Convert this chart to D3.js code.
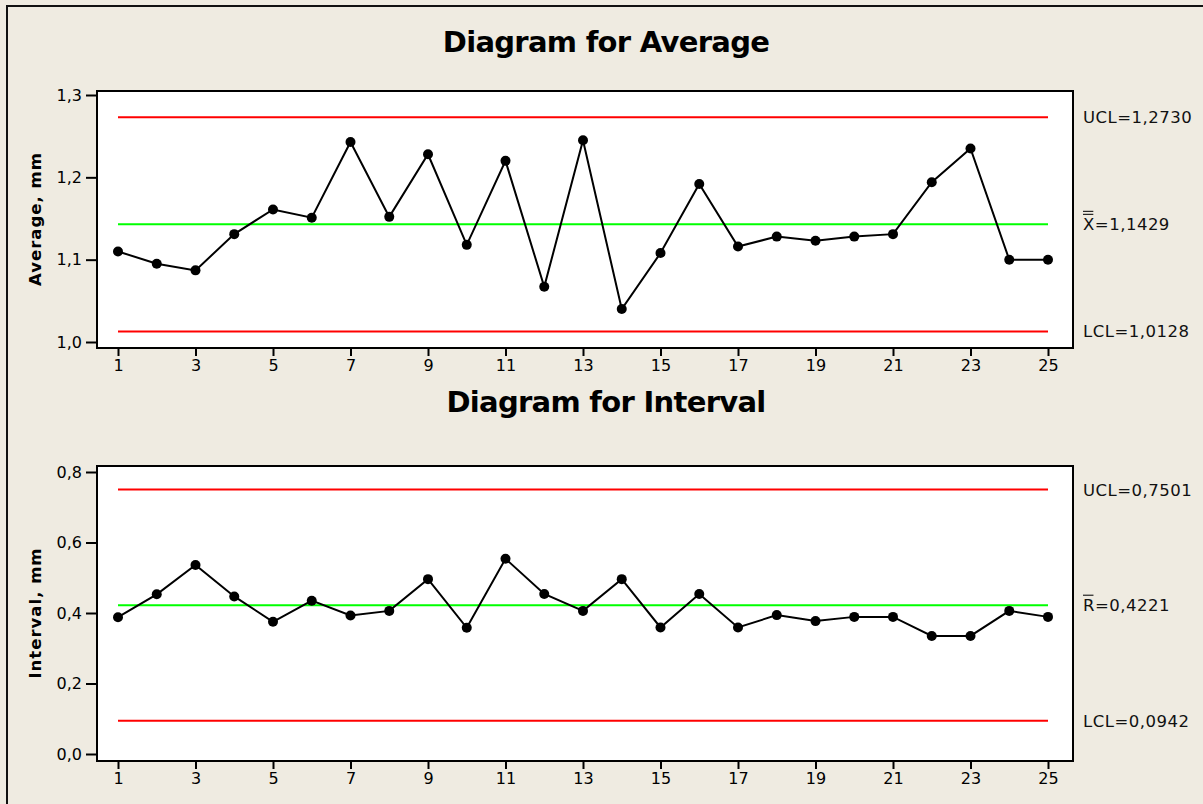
<!DOCTYPE html>
<html>
<head>
<meta charset="utf-8">
<script src="https://cdn.jsdelivr.net/npm/d3@7"></script>
<style>
  html, body { margin: 0; padding: 0; background: #efebe1; overflow: hidden; }
  svg { display: block; }
  .axis text { font-family: "DejaVu Sans", sans-serif; font-size: 16px; fill: #000; }
  .axis path, .axis line { stroke: #000; stroke-width: 2px; }
</style>
</head>
<body>
<div id="chart"></div>
<script>
// sample numbers on the x axis
var samples = d3.range(1, 26);
var xTicks = [1, 3, 5, 7, 9, 11, 13, 15, 17, 19, 21, 23, 25];

// subgroup averages (mm)
var averages = [1.110, 1.095, 1.087, 1.131, 1.161, 1.151, 1.243, 1.152, 1.228, 1.118,
                1.220, 1.067, 1.245, 1.040, 1.108, 1.192, 1.116, 1.128, 1.123, 1.128,
                1.131, 1.194, 1.235, 1.100, 1.100];
var avgLimits = { ucl: 1.2730, center: 1.1429, lcl: 1.0128 };
var avgTicks = [1.0, 1.1, 1.2, 1.3];

// subgroup ranges (mm)
var intervals = [0.388, 0.453, 0.536, 0.447, 0.375, 0.435, 0.393, 0.406, 0.496, 0.358,
                 0.554, 0.454, 0.406, 0.496, 0.359, 0.454, 0.359, 0.394, 0.377, 0.389,
                 0.389, 0.335, 0.335, 0.406, 0.389];
var intLimits = { ucl: 0.7501, center: 0.4221, lcl: 0.0942 };
var intTicks = [0.0, 0.2, 0.4, 0.6, 0.8];

var W = 1203, H = 804;
var comma = d3.formatLocale({ decimal: ",", thousands: " ", grouping: [3], currency: ["", ""] });
var f1 = comma.format(".1f"), f4 = comma.format(".4f");

var svg = d3.select("#chart").append("svg")
  .attr("width", W).attr("height", H);

// outer frame
svg.append("rect")
  .attr("x", 7).attr("y", 6)
  .attr("width", W + 20).attr("height", H + 20)
  .attr("fill", "#efebe1")
  .attr("stroke", "#111").attr("stroke-width", 2);

var plotLeft = 97, plotRight = 1073;
var x = d3.scaleLinear().domain([1, 25]).range([118, 1048]);

function panel(opts) {
  var y = d3.scaleLinear().domain(opts.domain).range([opts.yBottom, opts.yTop]);
  var g = svg.append("g");

  // title
  g.append("text")
    .attr("x", 606).attr("y", opts.titleY)
    .attr("text-anchor", "middle")
    .attr("font-family", "DejaVu Sans, sans-serif")
    .attr("font-weight", "bold")
    .attr("font-size", "29px")
    .attr("letter-spacing", "-0.7px")
    .text(opts.title);

  // plot area
  g.append("rect")
    .attr("x", plotLeft).attr("y", opts.frameTop)
    .attr("width", plotRight - plotLeft).attr("height", opts.frameBottom - opts.frameTop)
    .attr("fill", "#fff")
    .attr("stroke", "#000").attr("stroke-width", 2);

  // axes
  g.append("g").attr("class", "axis")
    .attr("transform", "translate(" + (plotLeft - 1) + ",0)")
    .call(d3.axisLeft(y).tickValues(opts.ticks).tickFormat(f1).tickSize(10).tickSizeOuter(0).tickPadding(4))
    .call(function (a) { a.select(".domain").remove(); });

  g.append("g").attr("class", "axis")
    .attr("transform", "translate(0," + (opts.frameBottom + 1) + ")")
    .call(d3.axisBottom(x).tickValues(xTicks).tickFormat(d3.format("d")).tickSize(7).tickPadding(4))
    .call(function (a) { a.select(".domain").remove(); });

  // y label
  g.append("text")
    .attr("transform", "translate(41," + opts.labelY + ") rotate(-90)")
    .attr("text-anchor", "middle")
    .attr("font-family", "DejaVu Sans, sans-serif")
    .attr("font-weight", "bold")
    .attr("font-size", "16.5px")
    .attr("letter-spacing", "1px")
    .text(opts.yLabel);

  // control lines
  var lims = [
    { v: opts.limits.ucl, c: "#ff0000" },
    { v: opts.limits.center, c: "#00ff00" },
    { v: opts.limits.lcl, c: "#ff0000" }
  ];
  g.selectAll(".lim").data(lims).enter().append("line")
    .attr("x1", x(1)).attr("x2", x(25))
    .attr("y1", function (d) { return y(d.v); })
    .attr("y2", function (d) { return y(d.v); })
    .attr("stroke", function (d) { return d.c; })
    .attr("stroke-width", 2);

  // series line and points
  var line = d3.line()
    .x(function (d, i) { return x(samples[i]); })
    .y(function (d) { return y(d); });
  g.append("path")
    .datum(opts.values)
    .attr("d", line)
    .attr("fill", "none")
    .attr("stroke", "#000")
    .attr("stroke-width", 2);
  g.selectAll(".pt").data(opts.values).enter().append("circle")
    .attr("cx", function (d, i) { return x(samples[i]); })
    .attr("cy", function (d) { return y(d); })
    .attr("r", 5)
    .attr("fill", "#000");

  // right side labels
  var labelX = 1083;
  function sideText(yv, txt) {
    return g.append("text")
      .attr("x", labelX).attr("y", y(yv))
      .attr("dy", "0.36em")
      .attr("font-family", "DejaVu Sans, sans-serif")
      .attr("font-size", "16.5px")
      .attr("letter-spacing", "0.5px")
      .attr("fill", "#111")
      .text(txt);
  }
  sideText(opts.limits.ucl, "UCL=" + f4(opts.limits.ucl));
  sideText(opts.limits.lcl, "LCL=" + f4(opts.limits.lcl));

  // center label with bar(s) over the symbol
  var sym = sideText(opts.limits.center, opts.symbol);
  var symW = sym.node().getComputedTextLength();
  sideText(opts.limits.center, "=" + f4(opts.limits.center)).attr("x", labelX + symW);
  var yc = y(opts.limits.center);
  for (var k = 0; k < opts.bars; k++) {
    g.append("line")
      .attr("x1", labelX).attr("x2", labelX + symW - 1.5)
      .attr("y1", yc - 10 - k * 3).attr("y2", yc - 10 - k * 3)
      .attr("stroke", "#111").attr("stroke-width", 1.1);
  }
}

panel({
  title: "Diagram for Average", titleY: 52,
  domain: [1.0, 1.3], yBottom: 342, yTop: 95,
  frameTop: 91, frameBottom: 348,
  ticks: avgTicks, yLabel: "Average, mm", labelY: 219,
  limits: avgLimits, values: averages, symbol: "X", bars: 2
});

panel({
  title: "Diagram for Interval", titleY: 412,
  domain: [0.0, 0.8], yBottom: 754, yTop: 472,
  frameTop: 466, frameBottom: 761,
  ticks: intTicks, yLabel: "Interval, mm", labelY: 613,
  limits: intLimits, values: intervals, symbol: "R", bars: 1
});
</script>
</body>
</html>
